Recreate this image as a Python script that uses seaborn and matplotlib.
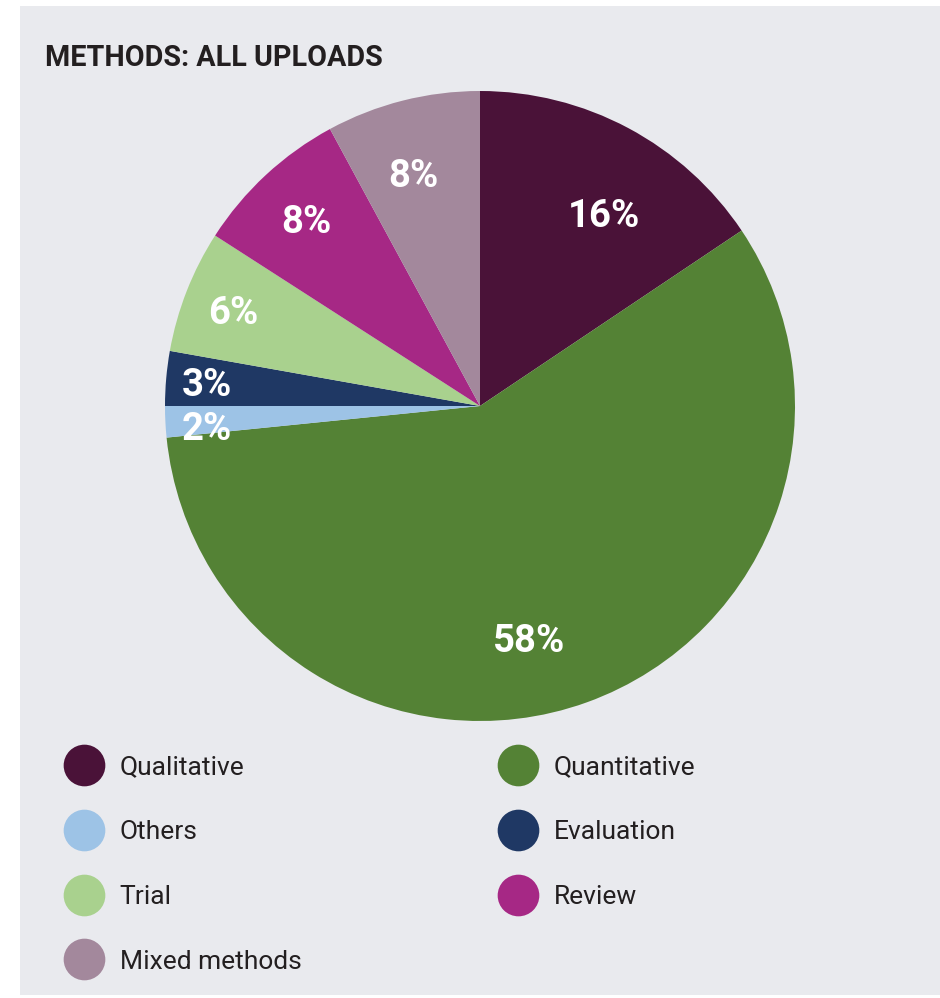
import numpy as np
import matplotlib.pyplot as plt
import matplotlib.patches as mpatches
from matplotlib.lines import Line2D
import seaborn as sns

# Dados (sentido horário a partir do topo)
categorias = ['Qualitative', 'Quantitative', 'Others', 'Evaluation', 'Trial', 'Review', 'Mixed methods']
valores = [15.6, 57.8, 1.6, 2.8, 6.3, 8.0, 7.9]
rotulos = ['16%', '58%', '2%', '3%', '6%', '8%', '8%']
cores = ['#4a1238', '#548235', '#9dc3e6', '#1f3864', '#a9d18e', '#a62885', '#a3889c']
ordem_legenda = ['Qualitative', 'Others', 'Trial', 'Mixed methods', 'Quantitative', 'Evaluation', 'Review']

# estilo dos rótulos (raio relativo e ajuste de ângulo)
raio_rotulo = [0.73, 0.75, 0.87, 0.87, 0.84, 0.81, 0.77]
ajuste_ang = [-4.6, -7.7, 1.2, 0.0, 0.0, 0.0, 1.7]

sns.set_theme(style="white")
plt.rcParams['font.family'] = ['Roboto', 'DejaVu Sans']
paleta = sns.color_palette(cores)

W, H = 940, 998
fig = plt.figure(figsize=(W / 100, H / 100), dpi=100)
fig.patch.set_facecolor('white')
fig.patches.append(mpatches.Rectangle((20 / W, 3 / H), 920 / W, 989 / H,
                                      transform=fig.transFigure, facecolor='#e9eaee',
                                      edgecolor='none', zorder=-10))

fig.text(45 / W, 1 - 58 / H, 'METHODS: ALL UPLOADS', fontsize=20.7, fontweight='bold',
         color='#231f20', va='center', ha='left')

cx, cy, r = 480, 406, 315
ax = fig.add_axes([(cx - r) / W, 1 - (cy + r) / H, 2 * r / W, 2 * r / H])
ax.set_zorder(5)
wedges, _ = ax.pie(valores, colors=paleta, startangle=90, counterclock=False,
                   radius=1, wedgeprops=dict(linewidth=0))
ax.set_xlim(-1, 1)
ax.set_ylim(-1, 1)
ax.set_aspect('equal')
ax.axis('off')

for w, txt, rr, da in zip(wedges, rotulos, raio_rotulo, ajuste_ang):
    ang = np.deg2rad((w.theta1 + w.theta2) / 2 + da)
    ax.text(rr * np.cos(ang), rr * np.sin(ang), txt, color='white', fontsize=27.5,
            fontweight='bold', ha='center', va='center_baseline')

cor_de = dict(zip(categorias, paleta))
handles = [Line2D([], [], marker='o', linestyle='none', markersize=30,
                  markerfacecolor=cor_de[c], markeredgewidth=0) for c in ordem_legenda]
leg = fig.legend(handles, ordem_legenda, loc='upper left', ncol=2,
                 bbox_to_anchor=(71 / W, 1 - 755 / H), frameon=False,
                 fontsize=19, handlelength=1.0, handletextpad=0.85,
                 labelspacing=1.55, columnspacing=7.7, borderpad=0, borderaxespad=0)
for t in leg.get_texts():
    t.set_color('#231f20')

fig.savefig('out.png', dpi=100)
